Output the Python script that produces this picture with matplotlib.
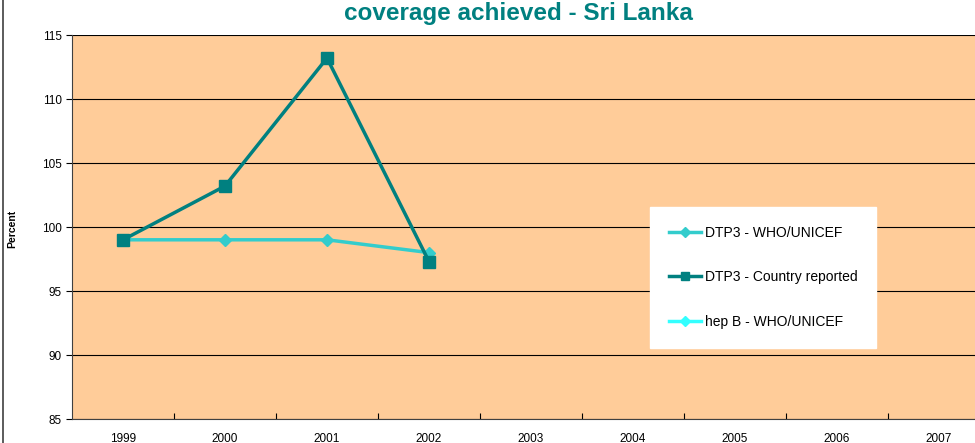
import matplotlib.pyplot as plt
from matplotlib.lines import Line2D

plt.rcParams['font.family'] = ['Liberation Sans', 'DejaVu Sans']

# dados
anos = ['1999', '2000', '2001', '2002', '2003', '2004', '2005', '2006', '2007']
dtp3_who = [99, 99, 99, 98]
dtp3_pais = [99, 103.2, 113.2, 97.3]
hepb_who = []

cor_who = '#33CCCC'
cor_pais = '#008080'
cor_hepb = '#33FFFF'

fig = plt.figure(figsize=(9.75, 4.43), dpi=100)
W, H = 975, 443
x0, x1 = 72, 990
y0, y1 = 35, 419
ax = fig.add_axes([x0 / W, 1 - y1 / H, (x1 - x0) / W, (y1 - y0) / H])
ax.set_facecolor('#FFCC99')

x = list(range(len(anos)))
ax.plot(x[:len(dtp3_who)], dtp3_who, color=cor_who, lw=2.5, marker='D', ms=6,
        label='DTP3 - WHO/UNICEF', zorder=3)
ax.plot(x[:len(dtp3_pais)], dtp3_pais, color=cor_pais, lw=2.5, marker='s', ms=8,
        label='DTP3 - Country reported', zorder=4)

ax.set_xlim(-0.5, len(anos) - 0.5)
ax.set_ylim(85, 115)
ax.set_yticks(range(85, 116, 5))
ax.set_xticks([i + 0.5 for i in range(len(anos) - 1)], minor=False)
ax.set_xticklabels([])
ax.set_xticks(x, minor=True)
ax.set_xticklabels(anos, minor=True)
ax.tick_params(axis='x', which='minor', length=0, pad=10, labelsize=8.5)
ax.tick_params(axis='x', which='major', length=4, direction='in', color='black')
ax.tick_params(axis='y', length=4, labelsize=8.5, direction='out')
ax.grid(axis='y', color='black', lw=0.8)
for s in ['top', 'right']:
    ax.spines[s].set_visible(False)
ax.spines['left'].set_color('#404040')
ax.spines['bottom'].set_color('#404040')

fig.text(12 / W, 1 - 229 / H, 'Percent', rotation=90, ha='center', va='center',
         fontsize=7.5, fontweight='bold')
fig.text(518 / W, 1 - 20 / H, 'coverage achieved - Sri Lanka', ha='center',
         va='baseline', fontsize=17.5, fontweight='bold', color=cor_pais)

# borda esquerda
fig.add_artist(Line2D([3 / W, 3 / W], [0, 1], color='#404040', lw=1.2))

handles = [
    Line2D([], [], color=cor_who, lw=2.5, marker='D', ms=5),
    Line2D([], [], color=cor_pais, lw=2.5, marker='s', ms=6),
    Line2D([], [], color=cor_hepb, lw=2.5, marker='D', ms=5),
]
leg = fig.legend(handles, ['DTP3 - WHO/UNICEF', 'DTP3 - Country reported', 'hep B - WHO/UNICEF'],
                 loc='upper left', bbox_to_anchor=(650 / W, 1 - 207 / H), frameon=True,
                 fancybox=False, edgecolor='white', facecolor='white', framealpha=1,
                 fontsize=10, labelspacing=2.2, handlelength=2.3, borderpad=1.35,
                 borderaxespad=0, handletextpad=0.3)

fig.savefig('out.png', dpi=100)
